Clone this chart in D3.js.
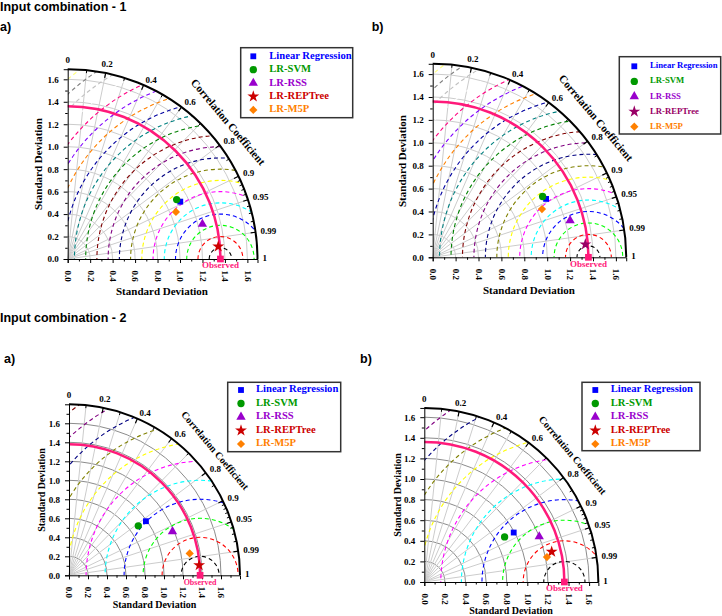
<!DOCTYPE html>
<html>
<head>
<meta charset="utf-8">
<style>
body { margin: 0; background: #fff; }
svg text { font-family: "Liberation Serif", "Times New Roman", serif; font-weight: bold; }
svg text.head { font-family: "Liberation Sans", Arial, sans-serif; }
</style>
</head>
<body>
<svg id="chart" width="722" height="616"></svg>
<script src="https://d3js.org/d3.v7.min.js"></script>
<script>

// ---- data ----
const models = ["Linear Regression", "LR-SVM", "LR-RSS", "LR-REPTree", "LR-M5P"];
const groupTitles = ["Input combination - 1", "Input combination - 2"];
const panelLabels = ["a)", "b)", "a)", "b)"];

// standard deviation and correlation of each model, one pair of arrays per panel
const std1a  = [1.125, 1.105, 1.239, 1.345, 1.051];
const corr1a = [0.891, 0.878, 0.968, 0.9966, 0.917];
const std1b  = [1.114, 1.097, 1.242, 1.338, 1.043];
const corr1b = [0.889, 0.875, 0.966, 0.9964, 0.915];
const std2a  = [0.990, 0.896, 1.183, 1.374, 1.291];
const corr2a = [0.818, 0.814, 0.921, 0.997, 0.984];
const std2b  = [0.992, 0.894, 1.200, 1.271, 1.215];
const corr2b = [0.875, 0.872, 0.930, 0.973, 0.980];

const observedStd = [1.36, 1.36, 1.38, 1.36];
const axisMax = [1.69, 1.69, 1.8, 1.69];
const rmsStep = [0.1, 0.1, 0.2, 0.2];

const stdTicks = [0, 0.2, 0.4, 0.6, 0.8, 1.0, 1.2, 1.4, 1.6];
const stdMinor = [0.1, 0.3, 0.5, 0.7, 0.9, 1.1, 1.3, 1.5, 1.7];
const corrLabels = [0, 0.2, 0.4, 0.6, 0.8, 0.9, 0.95, 0.99, 1];
const corrGrid = [0.1, 0.2, 0.3, 0.4, 0.5, 0.6, 0.7, 0.8, 0.9, 0.95, 0.99];
const corrMinor = [0.1, 0.3, 0.5, 0.7, 0.85, 0.91, 0.92, 0.93, 0.94, 0.96, 0.97, 0.98];

// ---- styling ----
const contourColors = ["#000000", "#ff0000", "#00ff00", "#0000ff", "#00ffff", "#ff00ff",
  "#ffff00", "#808000", "#000080", "#800080", "#800000", "#008000", "#008080", "#0000a0",
  "#ff8000", "#8000ff", "#ff0080", "#ffffff", "#c0c0c0", "#808080", "#ffff80", "#80ffff"];
const modelColors = ["#0000ff", "#009900", "#9900cc", "#cc0000", "#ff8000"];
const symbolTypes = [d3.symbolSquare, d3.symbolCircle, d3.symbolTriangle, d3.symbolStar, d3.symbolSquare];
const symbolSizes = [34, 42, 38, 44, 34];
const pink = "#ff1a7a";

const panels = [
  { std: std1a, corr: corr1a, ox: 67.7, oy: 259, s: 112.3, gridGray: "#cccccc", star: "#cc0000",
    lab: [0, 31], yt: [41.5, 164], xt: [162, 295], fs: 11,
    leg: { x: 240.7, y: 47.7, w: 112, h: 70, r0: 56.3, gap: 13.4, sx: 253.3, tx: 269.3, fs: 10.6 } },
  { std: std1b, corr: corr1b, ox: 432.7, oy: 257.3, s: 114.5, gridGray: "#cccccc", star: "#990066",
    lab: [371.7, 31], yt: [406, 161], xt: [529, 294], fs: 11,
    leg: { x: 619.3, y: 56.7, w: 101.4, h: 77.3, r0: 66.3, gap: 15.1, sx: 634.3, tx: 650, fs: 8.7 } },
  { std: std2a, corr: corr2a, ox: 69, oy: 575.3, s: 95, gridGray: "#8c8c8c", star: "#cc0000",
    lab: [4, 363], yt: [44.5, 490], xt: [154.5, 608.3], fs: 10,
    leg: { x: 227.7, y: 382.3, w: 113, h: 69.4, r0: 390, gap: 13.5, sx: 241, tx: 256, fs: 10.6 } },
  { std: std2b, corr: corr2b, ox: 424.3, oy: 582, s: 103, gridGray: "#8c8c8c", star: "#cc0000",
    lab: [360, 363], yt: [401, 495], xt: [511, 614], fs: 10,
    leg: { x: 582, y: 382.3, w: 118, h: 68.4, r0: 390, gap: 13.5, sx: 595.3, tx: 610.7, fs: 10.6 } }
];

const svg = d3.select("#chart");

svg.append("text").attr("class", "head").attr("x", 0).attr("y", 11)
  .attr("font-size", 12.5).text(groupTitles[0]);
svg.append("text").attr("class", "head").attr("x", 0).attr("y", 321.5)
  .attr("font-size", 12.5).text(groupTitles[1]);

function symbolPath(k) {
  return d3.symbol().type(symbolTypes[k]).size(symbolSizes[k])();
}

panels.forEach((p, i) => {
  const rmax = axisMax[i];
  const R = p.s * rmax;
  const rs = d3.scaleLinear().domain([0, rmax]).range([0, R]);
  const ys = d3.scaleLinear().domain([0, rmax]).range([0, -R]);
  const obs = observedStd[i];
  const polar = (rad, c) => [rad * c, -rad * Math.sqrt(1 - c * c)];
  const quarter = rad => `M${rad},0 A${rad},${rad} 0 0 0 0,${-rad}`;

  svg.append("text").attr("class", "head").attr("x", p.lab[0]).attr("y", p.lab[1])
    .attr("font-size", 12.5).text(panelLabels[i]);

  const g = svg.append("g").attr("transform", `translate(${p.ox},${p.oy})`);

  const cid = "clip" + i;
  g.append("clipPath").attr("id", cid).append("path")
    .attr("d", `M0,0 L${R},0 A${R},${R} 0 0 0 0,${-R} Z`);

  // std dev grid arcs
  g.selectAll("path.sgrid")
    .data(stdTicks.filter(v => v > 0 && v < rmax))
    .join("path").attr("class", "sgrid")
    .attr("d", v => quarter(rs(v)))
    .attr("fill", "none").attr("stroke", p.gridGray).attr("stroke-width", 1);

  // correlation radial lines
  g.selectAll("line.cgrid").data(corrGrid).join("line").attr("class", "cgrid")
    .attr("x1", 0).attr("y1", 0)
    .attr("x2", c => polar(R, c)[0]).attr("y2", c => polar(R, c)[1])
    .attr("stroke", "#cccccc").attr("stroke-width", 1);

  // RMS difference contours around the observed point
  const nC = Math.floor(Math.hypot(obs, rmax) / rmsStep[i]);
  const rms = d3.range(1, nC + 1).map(k => k * rmsStep[i]);
  g.append("g").attr("clip-path", `url(#${cid})`)
    .selectAll("circle").data(rms).join("circle")
    .attr("cx", rs(obs)).attr("cy", 0).attr("r", v => rs(v))
    .attr("fill", "none")
    .attr("stroke", (v, k) => contourColors[k % contourColors.length])
    .attr("stroke-width", 1.1)
    .attr("stroke-dasharray", "4,3");

  // observed std arc
  g.append("path").attr("d", quarter(rs(obs)))
    .attr("fill", "none").attr("stroke", pink).attr("stroke-width", 2.5);

  // outer arc
  g.append("path").attr("d", quarter(R))
    .attr("fill", "none").attr("stroke", "#000").attr("stroke-width", 2);

  // y axis
  const yAx = g.append("g").call(d3.axisLeft(ys).tickValues(stdTicks)
    .tickFormat(d3.format(".1f")).tickSize(4).tickPadding(5));
  g.append("g").call(d3.axisLeft(ys).tickValues(stdMinor.filter(v => v < rmax))
    .tickFormat("").tickSize(2.5)).select(".domain").remove();

  // x axis
  const xAx = g.append("g").call(d3.axisBottom(rs).tickValues(stdTicks)
    .tickFormat(d3.format(".1f")).tickSize(4));
  g.append("g").call(d3.axisBottom(rs).tickValues(stdMinor.filter(v => v < rmax))
    .tickFormat("").tickSize(2.5)).select(".domain").remove();
  xAx.selectAll("text")
    .attr("transform", "rotate(90)")
    .attr("text-anchor", "start")
    .attr("x", 11.5).attr("y", 0).attr("dy", "0.35em");

  [yAx, xAx].forEach(a => {
    a.selectAll("text").attr("font-size", 9).attr("fill", "#000")
      .attr("font-family", null);
    a.attr("font-family", null);
  });
  g.selectAll(".domain").attr("stroke", "#000").attr("stroke-width", 1);

  // correlation ticks on the outer arc
  g.selectAll("line.cmaj").data(corrLabels.filter(c => c > 0 && c < 1)).join("line")
    .attr("class", "cmaj")
    .attr("x1", c => polar(R, c)[0]).attr("y1", c => polar(R, c)[1])
    .attr("x2", c => polar(R - 5, c)[0]).attr("y2", c => polar(R - 5, c)[1])
    .attr("stroke", "#000").attr("stroke-width", 1.2);
  g.selectAll("line.cmin").data(corrMinor).join("line")
    .attr("class", "cmin")
    .attr("x1", c => polar(R, c)[0]).attr("y1", c => polar(R, c)[1])
    .attr("x2", c => polar(R - 3, c)[0]).attr("y2", c => polar(R - 3, c)[1])
    .attr("stroke", "#000").attr("stroke-width", 1);

  // correlation labels
  g.selectAll("text.clab").data(corrLabels).join("text").attr("class", "clab")
    .each(function (c) {
      const top = Math.acos(c) > 75 * Math.PI / 180;
      const pos = polar(R + (top ? 8 : 5), c);
      d3.select(this).attr("x", pos[0]).attr("y", pos[1])
        .attr("text-anchor", top ? "middle" : "start");
    })
    .attr("dominant-baseline", "middle")
    .attr("font-size", 9)
    .text(c => String(c));

  // "Correlation Coefficient" title along the arc
  const ca = 40.5 * Math.PI / 180;
  g.append("text")
    .attr("transform", `translate(${(R + 20) * Math.cos(ca)},${-(R + 20) * Math.sin(ca)}) rotate(50)`)
    .attr("text-anchor", "middle").attr("dominant-baseline", "middle")
    .attr("font-size", p.fs).text("Correlation Coefficient");

  // axis titles
  svg.append("text")
    .attr("transform", `translate(${p.yt[0]},${p.yt[1]}) rotate(-90)`)
    .attr("text-anchor", "middle").attr("font-size", p.fs).text("Standard Deviation");
  svg.append("text").attr("x", p.xt[0]).attr("y", p.xt[1])
    .attr("text-anchor", "middle").attr("font-size", p.fs).text("Standard Deviation");

  // model points
  const colors = modelColors.map((c, k) => k === 3 ? p.star : c);
  g.selectAll("path.pt").data(models).join("path").attr("class", "pt")
    .attr("transform", (m, k) => {
      const q = polar(rs(p.std[k]), p.corr[k]);
      return `translate(${q[0]},${q[1]})` + (k === 4 ? " rotate(45)" : "");
    })
    .attr("d", (m, k) => symbolPath(k))
    .attr("fill", (m, k) => colors[k]);

  // observed marker
  g.append("path").attr("transform", `translate(${rs(obs)},0)`)
    .attr("d", d3.symbol().type(d3.symbolSquare).size(45)())
    .attr("fill", pink);
  g.append("text").attr("x", rs(obs)).attr("y", 9.3)
    .attr("text-anchor", "middle").attr("font-size", i === 2 ? 8 : 9)
    .attr("fill", pink).text("Observed");

  // legend
  const L = p.leg;
  const lg = svg.append("g");
  lg.append("rect").attr("x", L.x).attr("y", L.y).attr("width", L.w).attr("height", L.h)
    .attr("fill", "#fff").attr("stroke", "#333").attr("stroke-width", 1.5);
  const rows = lg.selectAll("g.row").data(models).join("g").attr("class", "row")
    .attr("transform", (m, k) => `translate(0,${L.r0 + k * L.gap})`);
  rows.append("path")
    .attr("transform", (m, k) => `translate(${L.sx},0)` + (k === 4 ? " rotate(45)" : ""))
    .attr("d", (m, k) => symbolPath(k))
    .attr("fill", (m, k) => colors[k]);
  rows.append("text").attr("x", L.tx).attr("y", 0).attr("dominant-baseline", "middle")
    .attr("font-size", L.fs).attr("fill", (m, k) => colors[k]).text(m => m);
});

</script>
</body>
</html>
